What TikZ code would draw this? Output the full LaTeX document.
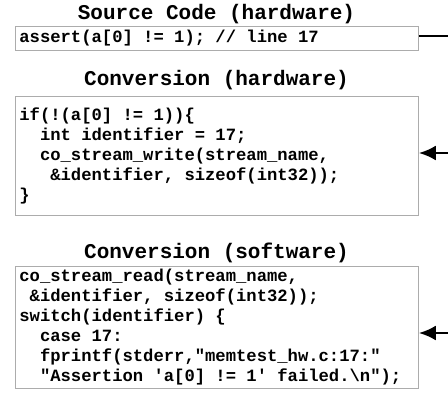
\documentclass[tikz,border=0pt]{standalone}
\usepackage{fontspec}
\setmonofont{Liberation Mono}
\usetikzlibrary{arrows.meta, positioning}

\tikzset{
    titolo/.style={font=\ttfamily\bfseries\fontsize{21}{24}\selectfont, inner sep=0pt},
    codebox/.style={draw=gray!65, line width=0.8pt, anchor=north west,
        align=left, text width=395pt, inner xsep=4pt, inner ysep=0pt,
        font=\ttfamily\bfseries\fontsize{17.2}{20}\selectfont,
        execute at begin node={\spaceskip=10.32pt\relax}},
    collegamento/.style={line width=2.8pt, black},
    freccia/.style={collegamento, -{Latex[length=17pt, width=15pt]}}
}
\newcommand{\rientro}[1]{\hspace*{#1pt}}

\begin{document}
\begin{tikzpicture}[x=1pt, y=-1pt]
    % ==========================================
    % AREA DEL DISEGNO
    % ==========================================
    \useasboundingbox (0,0) rectangle (448,396);

    % ==========================================
    % CODICE SORGENTE
    % ==========================================
    \node [titolo] (titSrc) at (216.5,14) {Source Code (hardware)};
    \node [codebox, minimum height=24pt] (boxSrc) at (15,26)
        {assert(a[0] != 1); // line 17};

    % ==========================================
    % CONVERSIONE LATO HARDWARE
    % ==========================================
    \node [titolo] (titHw) at (216.5,80) {Conversion (hardware)};
    \node [codebox, minimum height=119pt] (boxHw) at (15,96) {%
        if(!(a[0] != 1))\{\\
        \rientro{20.64}int identifier = 17;\\
        \rientro{20.64}co\_stream\_write(stream\_name,\\
        \rientro{30.96}\&identifier, sizeof(int32));\\
        \}};

    % ==========================================
    % CONVERSIONE LATO SOFTWARE
    % ==========================================
    \node [titolo] (titSw) at (216.5,253) {Conversion (software)};
    \node [codebox, minimum height=122pt] (boxSw) at (15,266) {%
        co\_stream\_read(stream\_name,\\
        \rientro{10.32}\&identifier, sizeof(int32));\\
        switch(identifier) \{\\
        \rientro{20.64}case 17:\\
        \rientro{20.64}fprintf(stderr,"memtest\_hw.c:17:"\\
        \rientro{20.64}"Assertion 'a[0] != 1' failed.\textbackslash n");};

    % ==========================================
    % COLLEGAMENTI (estremi liberi fuori dal bordo destro)
    % ==========================================
    \coordinate (outSrc) at (470,36);
    \coordinate (outHw)  at (470,153);
    \coordinate (outSw)  at (470,333);

    \draw [collegamento] (outSrc -| boxSrc.east) -- (outSrc);
    \draw [freccia] (outHw) -- (outHw -| boxHw.east);
    \draw [freccia] (outSw) -- (outSw -| boxSw.east);

\end{tikzpicture}
\end{document}
